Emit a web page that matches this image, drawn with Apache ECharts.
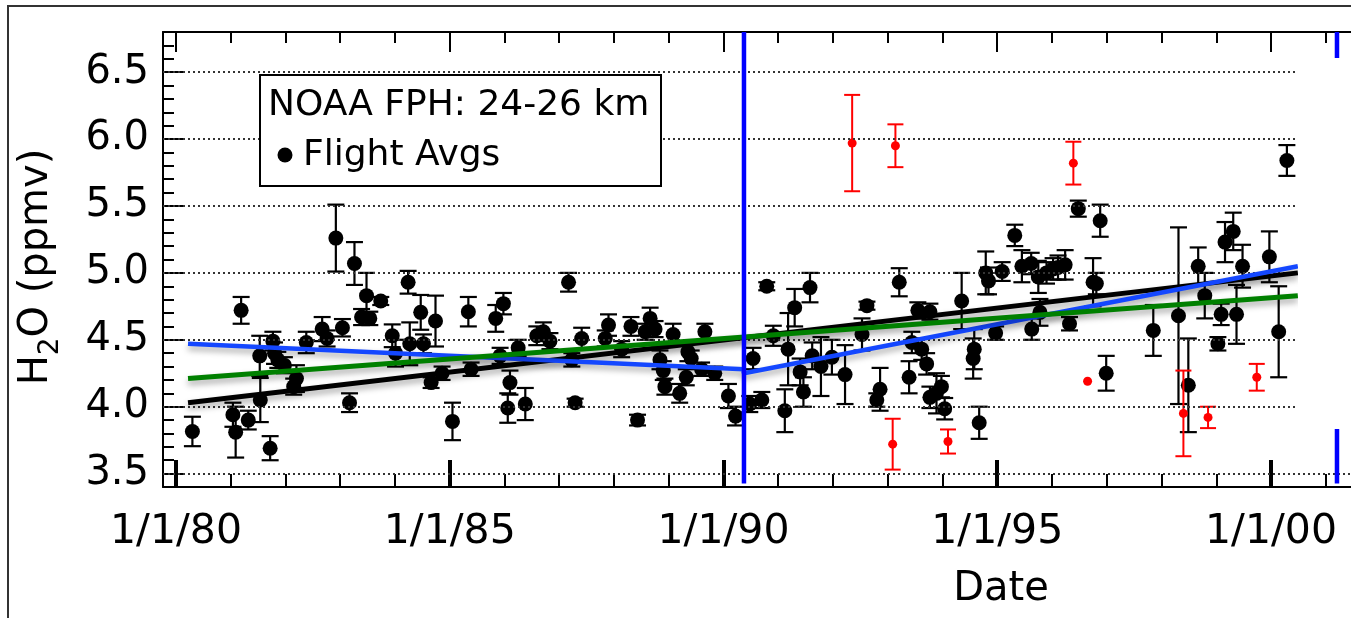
<!DOCTYPE html>
<html><head><meta charset="utf-8">
<script src="https://cdn.jsdelivr.net/npm/echarts@6/dist/echarts.min.js"></script>
<style>html,body{margin:0;padding:0;background:#fff;}#c{width:1351px;height:618px;}</style>
</head><body><div id="c"></div>
<script>
// ---- data (decimal year, H2O ppmv, error half-width) ----
const blackYears = [1980.30,1981.19,1981.04,1981.09,1981.32,1981.72,1981.54,1981.53,1981.77,1981.80,1981.86,1981.98,1982.20,1982.15,1982.38,1982.67,1982.76,1983.04,1982.92,1983.26,1983.17,1983.48,1983.39,1983.54,1983.74,1983.95,1984.01,1984.24,1984.27,1984.47,1984.52,1984.74,1984.66,1984.86,1985.05,1985.34,1985.39,1985.84,1985.98,1985.92,1986.10,1986.06,1986.38,1986.25,1986.59,1986.71,1986.83,1987.17,1987.23,1987.41,1987.29,1987.90,1987.84,1988.14,1988.31,1988.43,1988.57,1988.66,1988.75,1988.84,1988.90,1988.93,1989.08,1989.20,1989.32,1989.35,1989.41,1989.66,1989.60,1989.84,1990.09,1990.22,1990.48,1990.70,1990.54,1990.79,1990.91,1991.12,1991.18,1991.30,1991.58,1991.40,1991.46,1991.62,1991.78,1991.98,1992.22,1992.53,1992.62,1992.86,1992.80,1993.21,1993.39,1993.55,1993.44,1993.62,1993.71,1993.77,1993.77,1993.89,1993.98,1994.04,1994.35,1994.58,1994.56,1994.67,1994.79,1994.84,1995.09,1994.97,1995.32,1995.45,1995.62,1995.63,1995.75,1995.78,1995.90,1996.02,1996.11,1996.24,1996.32,1996.48,1996.88,1996.75,1996.81,1996.99,1997.85,1998.31,1998.49,1998.67,1998.79,1999.03,1999.09,1999.16,1999.31,1999.48,1999.37,1999.97,2000.14,2000.29];
const blackValues = [3.815,4.72,3.94,3.81,3.90,3.69,4.05,4.38,4.49,4.40,4.35,4.31,4.21,4.15,4.48,4.58,4.51,4.59,5.26,5.07,4.03,4.83,4.67,4.66,4.79,4.53,4.40,4.93,4.47,4.705,4.47,4.64,4.18,4.25,3.89,4.71,4.28,4.66,4.77,4.38,4.18,3.99,4.02,4.44,4.53,4.56,4.49,4.93,4.35,4.51,4.03,4.61,4.51,4.43,4.60,3.90,4.56,4.66,4.58,4.35,4.27,4.15,4.54,4.10,4.22,4.41,4.36,4.56,4.28,4.25,4.08,3.93,4.02,4.05,4.36,4.90,4.53,3.97,4.43,4.74,4.89,4.26,4.11,4.38,4.30,4.37,4.24,4.54,4.755,4.13,4.05,4.93,4.22,4.72,4.48,4.43,4.32,4.07,4.71,4.10,4.15,3.985,4.79,4.43,4.36,3.88,5.00,4.94,5.01,4.55,5.28,5.05,5.07,4.58,4.97,4.705,5.00,5.03,5.04,5.06,4.62,5.48,5.39,4.93,4.92,4.25,4.57,4.68,4.16,5.05,4.83,4.47,4.69,5.23,5.31,5.05,4.69,5.12,4.56,5.84];
const blackErrors = [0.11,0.10,0.09,0.19,0.07,0.09,0.165,0.15,0.07,0.08,0.06,0.06,0.10,0.06,0.08,0.09,0.06,0.065,0.25,0.16,0.07,0.17,0.06,0.05,0.03,0.085,0.10,0.085,0.16,0.13,0.07,0.19,0.04,0.05,0.14,0.11,0.05,0.10,0.08,0.06,0.09,0.11,0.12,0.06,0.07,0.07,0.06,0.07,0.05,0.08,0.03,0.08,0.06,0.06,0.07,0.04,0.06,0.08,0.06,0.07,0.07,0.06,0.08,0.07,0.06,0.07,0.06,0.06,0.05,0.05,0.09,0.07,0.06,0.06,0.08,0.03,0.075,0.16,0.27,0.14,0.11,0.10,0.11,0.10,0.22,0.13,0.22,0.12,0.03,0.16,0.05,0.105,0.12,0.06,0.08,0.08,0.08,0.08,0.06,0.15,0.08,0.08,0.21,0.15,0.15,0.12,0.16,0.10,0.07,0.05,0.08,0.12,0.08,0.08,0.12,0.10,0.08,0.08,0.09,0.11,0.05,0.06,0.12,0.18,0.08,0.13,0.19,0.66,0.35,0.14,0.17,0.05,0.08,0.15,0.14,0.16,0.22,0.19,0.34,0.115];

const redYears  = [1992.35,1993.14,1993.09,1994.10,1996.39,1996.65,1998.40,1998.85,1999.74];
const redValues = [5.97,5.95,3.72,3.74,5.82,4.19,3.95,3.92,4.22];
const redErrors = [0.36,0.16,0.19,0.09,0.16,0,0.32,0.08,0.10];

// trend lines
const blackTrendX = [1980.22, 2000.49];
const blackTrendY = [4.03, 5.00];
const greenTrendX = [1980.22, 2000.49];
const greenTrendY = [4.21, 4.83];
const blueTrendX  = [1980.22, 1990.37, 1990.37, 2000.49];
const blueTrendY  = [4.47, 4.28, 4.25, 5.05];

// vertical markers
const breakYears = [1990.374, 2001.205];

// axes
const xMin = 1979.763, xMax = 2001.461;
const yMin = 3.4, yMax = 6.8;
const xMajorTicks = [1980, 1985, 1990, 1995, 2000];
const xMinorTicks = [1980,1981,1982,1983,1984,1985,1986,1987,1988,1989,1990,1991,1992,1993,1994,1995,1996,1997,1998,1999,2000,2001];
const xTickLabels = ['1/1/80','1/1/85','1/1/90','1/1/95','1/1/00'];
const yMajorTicks = [3.5, 4.0, 4.5, 5.0, 5.5, 6.0, 6.5];
const yMinorTicks = [3.4,3.5,3.6,3.7,3.8,3.9,4.0,4.1,4.2,4.3,4.4,4.5,4.6,4.7,4.8,4.9,5.0,5.1,5.2,5.3,5.4,5.5,5.6,5.7,5.8,5.9,6.0,6.1,6.2,6.3,6.4,6.5,6.6,6.7,6.8];
const yTickLabels = ['3.5','4.0','4.5','5.0','5.5','6.0','6.5'];

const FONT = '"DejaVu Sans", sans-serif';
const zip3 = (a,b,c) => a.map((v,i)=>[v,b[i],c[i]]);
const zip2 = (a,b) => a.map((v,i)=>[v,b[i]]);

function errRender(color, r, cap, lw) {
  return function(params, api) {
    const x = api.value(0), y = api.value(1), e = api.value(2);
    const c = api.coord([x, y]);
    const ch = [];
    if (e > 0) {
      const t = api.coord([x, y + e]), b = api.coord([x, y - e]);
      const st = {stroke: color, lineWidth: lw};
      ch.push({type:'line', shape:{x1:c[0], y1:t[1], x2:c[0], y2:b[1]}, style:st});
      ch.push({type:'line', shape:{x1:c[0]-cap, y1:t[1], x2:c[0]+cap, y2:t[1]}, style:st});
      ch.push({type:'line', shape:{x1:c[0]-cap, y1:b[1], x2:c[0]+cap, y2:b[1]}, style:st});
    }
    ch.push({type:'circle', shape:{cx:c[0], cy:c[1], r:r}, style:{fill:color}});
    return {type:'group', children: ch};
  };
}

const chart = echarts.init(document.getElementById('c'), null, {renderer:'canvas'});
const xBase = {type:'value', min:xMin, max:xMax, splitLine:{show:false}, axisLabel:{show:false}};
const yBase = {type:'value', min:yMin, max:yMax, splitLine:{show:false}, axisLabel:{show:false}};
const shadow = {shadowColor:'rgba(0,0,0,0.35)', shadowBlur:6, shadowOffsetY:4};

chart.setOption({
  animation:false,
  backgroundColor:'#fff',
  grid:{left:163, top:32, right:0, bottom:131, containLabel:false},
  xAxis:[
    Object.assign({}, xBase, {position:'bottom',
      axisLine:{show:true, lineStyle:{color:'#000', width:2}},
      axisTick:{show:true, inside:true, length:13, customValues:xMinorTicks, lineStyle:{color:'#000', width:2}},
      axisLabel:{show:true, customValues:xMajorTicks, margin:25, color:'#000', fontSize:41, fontFamily:FONT,
        formatter:(v)=>xTickLabels[xMajorTicks.indexOf(Math.round(v))] || ''}}),
    Object.assign({}, xBase, {position:'bottom', axisLine:{show:false},
      axisTick:{show:true, inside:true, length:27, customValues:xMajorTicks, lineStyle:{color:'#000', width:4}}}),
    Object.assign({}, xBase, {position:'top',
      axisLine:{show:true, lineStyle:{color:'#000', width:2}},
      axisTick:{show:true, inside:true, length:11, customValues:xMinorTicks, lineStyle:{color:'#000', width:2}}}),
    Object.assign({}, xBase, {position:'top', axisLine:{show:false},
      axisTick:{show:true, inside:true, length:20, customValues:xMajorTicks, lineStyle:{color:'#000', width:2}}})
  ],
  yAxis:[
    Object.assign({}, yBase, {position:'left',
      axisLine:{show:true, lineStyle:{color:'#000', width:2}},
      axisTick:{show:true, inside:true, length:11, customValues:yMinorTicks, lineStyle:{color:'#000', width:2}},
      axisLabel:{show:true, customValues:yMajorTicks, margin:14, color:'#000', fontSize:40, fontFamily:FONT,
        formatter:(v)=>{const i = yMajorTicks.findIndex(t=>Math.abs(t-v)<1e-6); return i>=0 ? yTickLabels[i] : '';}}}),
    Object.assign({}, yBase, {position:'left', axisLine:{show:false},
      axisTick:{show:true, inside:true, length:20, customValues:yMajorTicks, lineStyle:{color:'#000', width:2}}})
  ],
  series:[
    {type:'line', data:[], silent:true, xAxisIndex:0, yAxisIndex:0,
      markLine:{silent:true, symbol:['none','none'], label:{show:false}, animation:false,
        lineStyle:{color:'#333', type:[2,3], width:2},
        data: yMajorTicks.map(v=>({yAxis:v}))}},
    {type:'custom', name:'Flight Avgs', renderItem: errRender('#000', 7.5, 8.5, 2.2),
      data: zip3(blackYears, blackValues, blackErrors), z:3},
    {type:'custom', name:'red', renderItem: errRender('#ff0000', 4.5, 8, 2),
      data: zip3(redYears, redValues, redErrors), z:3},
    {type:'line', data: zip2(blackTrendX, blackTrendY), symbol:'none', z:5,
      lineStyle:Object.assign({color:'#000', width:5}, shadow)},
    {type:'line', data: zip2(blueTrendX, blueTrendY), symbol:'none', z:5,
      lineStyle:Object.assign({color:'#1447ff', width:4.5}, shadow)},
    {type:'line', data: zip2(greenTrendX, greenTrendY), symbol:'none', z:5,
      lineStyle:Object.assign({color:'#008000', width:5}, shadow)},
    {type:'line', data: [[breakYears[0], 3.427],[breakYears[0], yMax]], symbol:'none', z:6,
      lineStyle:{color:'#0000ff', width:4.5}},
    {type:'line', data: [[breakYears[1], 3.427],[breakYears[1], yMax]], symbol:'none', z:6,
      lineStyle:{color:'#0000ff', width:4.5}}
  ],
  graphic:[
    {type:'rect', z:100, shape:{x:1298, y:58, width:60, height:371}, style:{fill:'#fff'}},
    {type:'rect', z:100, shape:{x:8, y:6, width:1400, height:700}, style:{fill:null, stroke:'#333', lineWidth:2}},
    {type:'rect', z:100, shape:{x:260, y:75, width:401, height:111}, style:{fill:'#fff', stroke:'#000', lineWidth:2}},
    {type:'text', z:101, x:268, y:106, style:{text:'NOAA FPH: 24-26 km', font:'36px "DejaVu Sans"', fill:'#000', align:'left', verticalAlign:'middle'}},
    {type:'circle', z:101, shape:{cx:285, cy:155, r:7.5}, style:{fill:'#000'}},
    {type:'text', z:101, x:303, y:156, style:{text:'Flight Avgs', font:'36px "DejaVu Sans"', fill:'#000', align:'left', verticalAlign:'middle'}},
    {type:'text', z:101, x:1001, y:590, style:{text:'Date', font:'40px "DejaVu Sans"', fill:'#000', align:'center', verticalAlign:'middle'}},
    {type:'text', z:101, x:37, y:267, rotation:Math.PI/2,
      style:{text:'{a|H}{b|2}{a|O (ppmv)}', align:'center', verticalAlign:'middle', fill:'#000',
        rich:{a:{fontSize:40, fontFamily:'DejaVu Sans', lineHeight:56, fill:'#000'},
              b:{fontSize:28, fontFamily:'DejaVu Sans', lineHeight:28, verticalAlign:'bottom', fill:'#000'}}}}
  ]
});
</script></body></html>
